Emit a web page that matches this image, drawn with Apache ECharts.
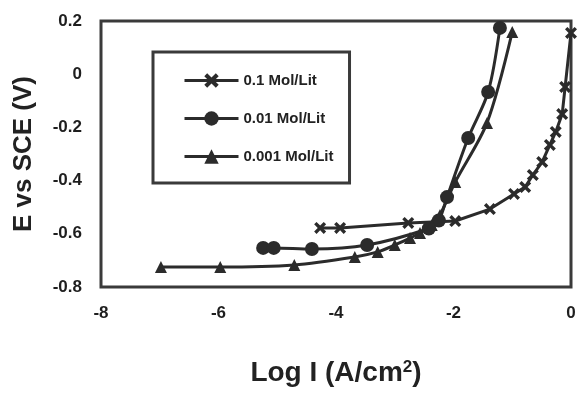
<!DOCTYPE html>
<html>
<head>
<meta charset="utf-8">
<script src="https://cdn.jsdelivr.net/npm/echarts@6/dist/echarts.min.js"></script>
<style>
  html, body { margin: 0; padding: 0; background: #fff; }
  #chart { width: 579px; height: 396px; }
</style>
</head>
<body>
<div id="chart"></div>
<script>
// values: [log I, E]
const seriesNames = ['0.1 Mol/Lit', '0.01 Mol/Lit', '0.001 Mol/Lit'];

const conc01 = [
  [-4.27, -0.578], [-3.93, -0.578], [-2.77, -0.559], [-1.97, -0.552],
  [-1.38, -0.507], [-0.97, -0.45], [-0.78, -0.424], [-0.65, -0.379],
  [-0.49, -0.33], [-0.36, -0.266], [-0.26, -0.217], [-0.15, -0.15],
  [-0.10, -0.048], [0.0, 0.155]
];

const conc001 = [
  [-5.24, -0.653], [-5.06, -0.653], [-4.41, -0.657], [-3.47, -0.642],
  [-2.42, -0.58], [-2.25, -0.55], [-2.11, -0.462], [-1.75, -0.24],
  [-1.41, -0.067], [-1.21, 0.174]
];

const conc0001 = [
  [-6.98, -0.725], [-5.97, -0.725], [-4.71, -0.717], [-3.68, -0.687],
  [-3.29, -0.668], [-3.0, -0.642], [-2.74, -0.616], [-2.57, -0.597],
  [-2.37, -0.567], [-2.23, -0.529], [-1.97, -0.405], [-1.43, -0.183],
  [-1.0, 0.159]
];

const xTicks = [-8, -6, -4, -2, 0];
const yTicks = [0.2, 0, -0.2, -0.4, -0.6, -0.8];

const ink = '#2b2b2b';
const crossPath = 'path://M2,0 L5,3 L8,0 L10,2 L7,5 L10,8 L8,10 L5,7 L2,10 L0,8 L3,5 L0,2 Z';

const chart = echarts.init(document.getElementById('chart'));

const makeSeries = (name, data, symbol, size, smooth) => ({
  name: name,
  type: 'line',
  data: data,
  symbol: symbol,
  symbolSize: size,
  smooth: smooth,
  showSymbol: true,
  clip: false,
  lineStyle: { color: ink, width: 3 },
  itemStyle: { color: ink, borderColor: ink, borderWidth: 0 },
  emphasis: { disabled: true }
});

const option = {
  animation: false,
  backgroundColor: '#fff',
  grid: {
    left: 101,
    top: 21,
    width: 470,
    height: 266,
    show: true,
    borderColor: '#3a3a3a',
    borderWidth: 3
  },
  legend: {
    data: seriesNames,
    orient: 'vertical',
    left: 153,
    top: 52,
    padding: [21, 16, 19, 30],
    itemWidth: 54,
    itemHeight: 18,
    itemGap: 23,
    borderColor: '#3a3a3a',
    borderWidth: 3,
    backgroundColor: '#fff',
    lineStyle: { width: 3, color: ink },
    textStyle: { fontFamily: 'Liberation Sans', fontWeight: 'bold', fontSize: 15, color: '#222' }
  },
  xAxis: {
    type: 'value',
    min: -8,
    max: 0,
    interval: 2,
    name: 'Log I (A/cm{sup|2})',
    nameLocation: 'middle',
    nameGap: 72,
    nameTextStyle: {
      fontFamily: 'Liberation Sans',
      fontWeight: 'bold',
      fontSize: 28,
      color: '#222',
      rich: {
        sup: {
          fontFamily: 'Liberation Sans',
          fontWeight: 'bold',
          fontSize: 17,
          color: '#222',
          verticalAlign: 'top',
          padding: [0, 0, 10, 0]
        }
      }
    },
    axisLine: { show: false },
    axisTick: { show: false },
    splitLine: { show: false },
    axisLabel: {
      margin: 18,
      fontFamily: 'Liberation Sans',
      fontWeight: 'bold',
      fontSize: 17,
      color: '#1e1e1e',
      formatter: v => (xTicks.includes(v) ? String(v) : '')
    }
  },
  yAxis: {
    type: 'value',
    min: -0.8,
    max: 0.2,
    interval: 0.2,
    name: 'E vs SCE (V)',
    nameLocation: 'middle',
    nameGap: 64,
    nameTextStyle: {
      fontFamily: 'Liberation Sans',
      fontWeight: 'bold',
      fontSize: 26,
      color: '#222'
    },
    axisLine: { show: false },
    axisTick: { show: false },
    splitLine: { show: false },
    axisLabel: {
      margin: 19,
      fontFamily: 'Liberation Sans',
      fontWeight: 'bold',
      fontSize: 17,
      color: '#1e1e1e',
      formatter: v => {
        const r = Math.round(v * 10) / 10;
        return yTicks.includes(r) ? String(r) : '';
      }
    }
  },
  series: [
    makeSeries(seriesNames[0], conc01, crossPath, 12, false),
    makeSeries(seriesNames[1], conc001, 'circle', 14, 0.3),
    makeSeries(seriesNames[2], conc0001, 'triangle', 12, 0.3)
  ]
};

chart.setOption(option);
</script>
</body>
</html>
